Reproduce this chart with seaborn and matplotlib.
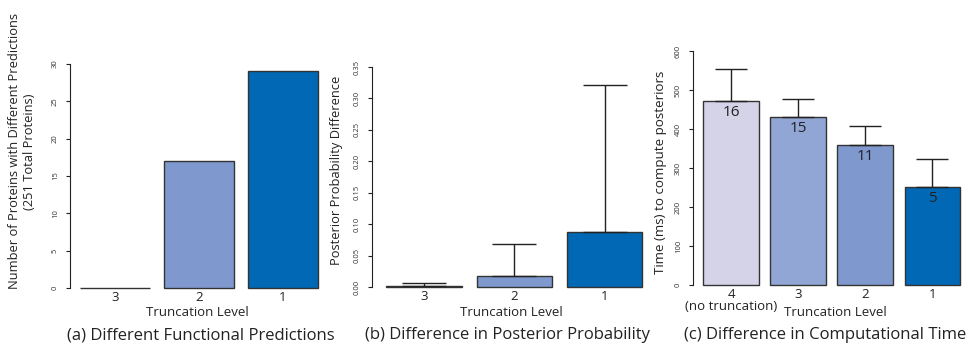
import numpy as np
import matplotlib
matplotlib.use("Agg")
import matplotlib.pyplot as plt
import seaborn as sns

# data
levels_a = ["3", "2", "1"]
counts_a = [0, 17, 29]

levels_b = ["3", "2", "1"]
diff_b = [0.001, 0.017, 0.088]
diff_b_top = [0.006, 0.068, 0.322]

levels_c = ["4\n(no truncation)", "3", "2", "1"]
time_c = [471, 430, 358, 251]
time_c_top = [555, 476, 407, 323]
n_c = ["16", "15", "11", "5"]

colors3 = ["#7f99ce", "#7f99ce", "#0068b4"]
colors4 = ["#d5d3e8", "#91a6d4", "#7f99ce", "#0068b4"]

sns.set_style("white")
plt.rcParams["font.family"] = ["Open Sans", "DejaVu Sans"]

fig = plt.figure(figsize=(9.7, 3.43), dpi=100)
W, H = 970, 343
TXT = "#222222"


def make_ax(left, right, bottom, top):
    return fig.add_axes([left / W, 1 - bottom / H, (right - left) / W, (bottom - top) / H])


def style(ax, ymax, yticks, fmt, bottom_px, top_px):
    ax.set_ylim(0, ymax)
    ax.set_yticks(yticks)
    ax.set_yticklabels([fmt.format(t) for t in yticks], rotation=90, va="center",
                       fontsize=5.5, color="#333333")
    ax.tick_params(axis="y", length=3, width=0.8, pad=5, left=True, color=TXT)
    ax.tick_params(axis="x", length=0, pad=2, labelsize=9.5, labelcolor=TXT)
    for s in ["top", "right", "bottom"]:
        ax.spines[s].set_visible(False)
    ax.spines["left"].set_linewidth(0.8)
    ax.spines["left"].set_color(TXT)
    ax.set_xlabel("Truncation Level", fontsize=9.5, color=TXT, va="center")
    # fixed pixel row for the axis title (y = 313 px)
    ax.xaxis.set_label_coords(0.5, -(313 - bottom_px) / (bottom_px - top_px))


def bars(ax, labels, vals, cols):
    sns.barplot(x=labels, y=vals, hue=labels, palette=cols, order=labels, hue_order=labels,
                width=0.83, edgecolor="#333333", linewidth=1.0, legend=False, ax=ax,
                saturation=1)
    for p in ax.patches:
        p.set_clip_on(False)


def caption(ax, s, dx=0):
    x0, x1 = ax.get_position().x0, ax.get_position().x1
    fig.text((x0 + x1) / 2 + dx / W, 1 - 335 / H, s, ha="center", va="center",
             fontsize=12, color=TXT)


# (a)
ax1 = make_ax(70, 325, 288, 64)
bars(ax1, levels_a, counts_a, ["#7f99ce", "#7f99ce", "#0068b4"])
ax1.set_xlim(-0.536, 2.5)
style(ax1, 30, [0, 5, 10, 15, 20, 25, 30], "{:g}", 288, 64)
ax1.set_ylabel("Number of Proteins with Different Predictions\n(251 Total Proteins)",
               fontsize=9.3, linespacing=1.15, color=TXT)
ax1.yaxis.set_label_coords(-0.135, 0.61)
caption(ax1, "(a) Different Functional Predictions", 3)

# (b)
ax2 = make_ax(372, 650, 287, 67)
bars(ax2, levels_b, diff_b, colors3)
x2 = np.arange(len(diff_b))
ax2.errorbar(x2, diff_b, yerr=[np.zeros(3), np.array(diff_b_top) - np.array(diff_b)],
             fmt="none", ecolor=TXT, elinewidth=1.0, capsize=15.8, capthick=1.0)
ax2.set_xlim(-0.575, 2.5)
style(ax2, 0.35, [0, 0.05, 0.1, 0.15, 0.2, 0.25, 0.3, 0.35], "{:.2f}", 287, 67)
ax2.set_ylabel("Posterior Probability Difference", fontsize=9.3, color=TXT)
ax2.yaxis.set_label_coords(-0.104, 0.53)
caption(ax2, "(b) Difference in Posterior Probability", -3)

# (c)
ax3 = make_ax(693, 966, 285, 51)
bars(ax3, levels_c, time_c, colors4)
x3 = np.arange(len(time_c))
ax3.errorbar(x3, time_c, yerr=[np.zeros(4), np.array(time_c_top) - np.array(time_c)],
             fmt="none", ecolor=TXT, elinewidth=1.0, capsize=11.5, capthick=1.0)
for xi, yi, lab in zip(x3, time_c, n_c):
    ax3.text(xi, yi - 9, lab, ha="center", va="top", fontsize=11, color=TXT)
ax3.set_xlim(-0.567, 3.5)
style(ax3, 600, [0, 100, 200, 300, 400, 500, 600], "{:g}", 285, 51)
ax3.set_xticklabels(levels_c, linespacing=0.9)
ax3.xaxis.set_label_coords(0.52, -(313 - 285) / (285 - 51))
ax3.set_ylabel("Time (ms) to compute posteriors", fontsize=9.6, color=TXT)
ax3.yaxis.set_label_coords(-0.095, 0.48)
caption(ax3, "(c) Difference in Computational Time", -4)

fig.savefig("out.png", dpi=100)
